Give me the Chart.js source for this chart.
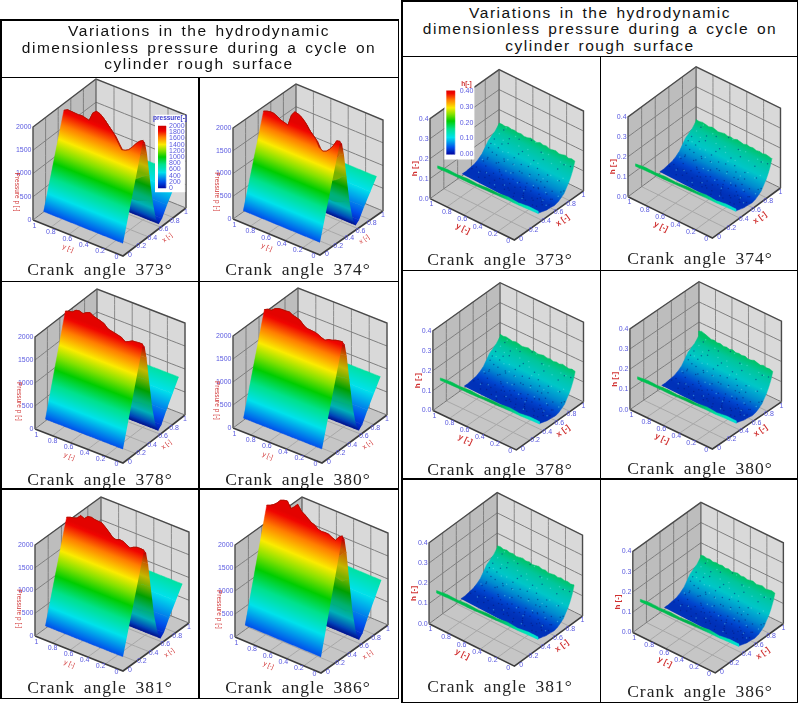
<!DOCTYPE html>
<html>
<head>
<meta charset="utf-8">
<title>Hydrodynamic pressure and film thickness during a cycle</title>
<script src="https://cdn.jsdelivr.net/npm/chart.js@4/dist/chart.umd.min.js"></script>
<style>
  body { margin: 0; background: #fff; width: 798px; height: 703px; overflow: hidden; position: relative; }
  canvas { position: absolute; display: block; }
  .rule { position: absolute; background: #000; }
  .title { position: absolute; text-align: center; font: 15.5px/16.5px "Liberation Sans", sans-serif; letter-spacing: 1.5px; word-spacing: 2px; color: #111; white-space: nowrap; }
  .caption { position: absolute; text-align: center; font: 17.5px/20px "Liberation Serif", serif; letter-spacing: 1px; word-spacing: 3.5px; color: #222; white-space: nowrap; }
</style>
</head>
<body>
<script>
const titleLines = ["Variations in the hydrodynamic", "dimensionless pressure during a cycle on", "cylinder rough surface"];
const axisTicks = ["0", "0.2", "0.4", "0.6", "0.8", "1"];
const pressureTicks = ["0", "500", "1000", "1500", "2000"];
const filmTicks = ["0.0", "0.1", "0.2", "0.3", "0.4"];
const pressureLegendTicks = ["0", "200", "400", "600", "800", "1000", "1200", "1400", "1600", "1800", "2000"];
const filmLegendTicks = ["0.00", "0.10", "0.20", "0.30", "0.40"];

// colour bar of the two legends
const rainbowAt = [0, 0.1, 0.25, 0.38, 0.5, 0.6, 0.7, 0.82, 0.92, 1];
const rainbowRgb = [[0, 10, 165], [0, 80, 235], [0, 225, 235], [0, 225, 140], [0, 205, 0], [130, 225, 0], [250, 235, 0], [255, 125, 0], [240, 5, 0], [205, 0, 0]];

// ridge height along y
const ridgeY = [0, 0.04, 0.08, 0.12, 0.16, 0.2, 0.24, 0.28, 0.32, 0.36, 0.4, 0.44, 0.48, 0.52, 0.56, 0.6, 0.64, 0.68, 0.72, 0.76, 0.8, 0.84, 0.88];
const ridge373 = [2157, 2105, 2024, 1921, 1833, 1788, 1771, 1897, 2031, 2122, 2206, 2297, 2359, 2378, 2311, 2123, 2142, 2161, 2151, 2156, 2161, 2166, 2121];
const ridge374 = [2187, 2168, 2027, 1922, 1846, 1814, 1863, 2015, 2093, 2172, 2287, 2365, 2407, 2426, 2322, 2069, 2096, 2116, 2165, 2200, 2204, 2187, 2156];
const ridge378 = [2248, 2248, 2240, 2232, 2188, 2151, 2216, 2237, 2257, 2272, 2293, 2372, 2400, 2422, 2443, 2493, 2463, 2412, 2440, 2425, 2360, 2344, 2315];
const ridge380 = [2299, 2290, 2274, 2244, 2228, 2183, 2211, 2252, 2273, 2279, 2284, 2326, 2404, 2432, 2452, 2494, 2485, 2484, 2475, 2445, 2378, 2370, 2332];
const ridge381 = [2316, 2322, 2320, 2290, 2244, 2286, 2329, 2335, 2304, 2325, 2411, 2483, 2548, 2553, 2559, 2580, 2564, 2489, 2524, 2442, 2411, 2395, 2364];
const ridge386 = [2646, 2593, 2489, 2516, 2557, 2562, 2553, 2565, 2627, 2654, 2710, 2772, 2813, 2927, 2838, 2770, 2905, 2889, 2857, 2768, 2701, 2655, 2624];

// pressure cross-section, back to front: station x, share of the ridge height, colour position
const sectionX = [0.9, 0.8, 0.7, 0.62, 0.57, 0.52, 0.47, 0.42, 0.38, 0.35, 0.32, 0];
const sectionShare = [0.4, 0.29, 0.18, 0.08, 0.05, 0.13, 0.32, 0.6, 0.84, 0.96, 1, 0.13];
const sectionTone = [0.35, 0.25, 0.15, 0.06, 0.02, 0.12, 0.35, 0.62, 0.82, 0.93, 0.95, 0.1];

// film thickness cross-section, front to back, at y = 0 and at y = 0.9
const filmX = [0.34, 0.4, 0.46, 0.52, 0.58, 0.63, 0.68, 0.72, 0.76, 0.79, 0.82, 0.85, 0.875];
const filmLow = [0.05, 0.043, 0.036, 0.034, 0.03, 0.035, 0.046, 0.057, 0.08, 0.096, 0.119, 0.147, 0.18];
const filmHigh = [0.06, 0.059, 0.063, 0.066, 0.077, 0.09, 0.114, 0.134, 0.143, 0.151, 0.157, 0.169, 0.18];
const filmTone = [0.085, 0.07, 0.065, 0.065, 0.075, 0.1, 0.14, 0.18, 0.22, 0.26, 0.29, 0.33, 0.4];

// rough upper edge of the film surface at x = 0.875
const edgeY = [0, 0.0375, 0.075, 0.1125, 0.15, 0.1875, 0.225, 0.2625, 0.3, 0.3375, 0.375, 0.4125, 0.45, 0.4875, 0.525, 0.5625, 0.6, 0.6375, 0.675, 0.7125, 0.75, 0.7875, 0.825, 0.8625, 0.9];
const edge373 = [0.18, 0.184, 0.179, 0.186, 0.181, 0.178, 0.185, 0.182, 0.179, 0.186, 0.183, 0.188, 0.18, 0.184, 0.187, 0.181, 0.179, 0.185, 0.182, 0.186, 0.184, 0.188, 0.183, 0.186, 0.184];
const edge374 = [0.178, 0.182, 0.185, 0.18, 0.184, 0.181, 0.186, 0.183, 0.187, 0.181, 0.185, 0.189, 0.182, 0.186, 0.183, 0.188, 0.184, 0.181, 0.186, 0.189, 0.183, 0.187, 0.19, 0.186, 0.188];
const edge378 = [0.183, 0.187, 0.182, 0.185, 0.189, 0.183, 0.186, 0.181, 0.187, 0.184, 0.189, 0.185, 0.182, 0.187, 0.184, 0.19, 0.186, 0.183, 0.188, 0.191, 0.186, 0.19, 0.193, 0.189, 0.192];
const edge380 = [0.18, 0.185, 0.183, 0.188, 0.182, 0.186, 0.191, 0.185, 0.183, 0.19, 0.186, 0.189, 0.186, 0.192, 0.187, 0.191, 0.188, 0.194, 0.19, 0.196, 0.193, 0.199, 0.205, 0.21, 0.204];
const edge381 = [0.185, 0.181, 0.186, 0.183, 0.188, 0.182, 0.187, 0.184, 0.181, 0.188, 0.184, 0.19, 0.186, 0.183, 0.189, 0.185, 0.191, 0.187, 0.184, 0.19, 0.186, 0.192, 0.188, 0.193, 0.19];
const edge386 = [0.182, 0.186, 0.183, 0.18, 0.187, 0.184, 0.181, 0.188, 0.185, 0.182, 0.187, 0.184, 0.19, 0.186, 0.183, 0.189, 0.185, 0.191, 0.187, 0.19, 0.186, 0.192, 0.189, 0.193, 0.19];

// thin raised lip along the front of the film surface
const lipY = [0, 0.1, 0.2, 0.3, 0.4, 0.5, 0.6, 0.7, 0.8, 0.9, 1];
const lipX = [0.35, 0.325, 0.3, 0.28, 0.255, 0.23, 0.205, 0.18, 0.16, 0.135, 0.11];
const lipZ = [0.045, 0.053, 0.06, 0.068, 0.076, 0.084, 0.092, 0.1, 0.108, 0.117, 0.125];
const lipRim = [0.012, 0.015, 0.011, 0.016, 0.012, 0.015, 0.012, 0.017, 0.013, 0.016, 0.012];

// dark pits and light grains picked out on the film surface
const pitX = [0.42, 0.47, 0.51, 0.55, 0.61, 0.66, 0.71, 0.75, 0.8, 0.84, 0.44, 0.49, 0.53, 0.58, 0.63, 0.68, 0.73, 0.78, 0.83, 0.86, 0.4, 0.46, 0.5, 0.56, 0.6, 0.65, 0.7, 0.76, 0.81, 0.85, 0.43, 0.48, 0.54, 0.57, 0.62, 0.67, 0.72, 0.77, 0.82, 0.87, 0.41, 0.45, 0.52, 0.59, 0.64, 0.69, 0.74, 0.79, 0.84, 0.86, 0.47, 0.55, 0.6, 0.66, 0.71, 0.5, 0.57, 0.63, 0.69, 0.75, 0.39, 0.43, 0.46, 0.49, 0.52, 0.54, 0.56, 0.59, 0.61, 0.64, 0.66, 0.68, 0.7, 0.72, 0.74, 0.77, 0.45, 0.48, 0.51, 0.53, 0.55, 0.58, 0.6, 0.62, 0.65, 0.67, 0.69, 0.71, 0.73, 0.76, 0.41, 0.44, 0.47, 0.5, 0.53, 0.56, 0.59, 0.62, 0.64, 0.67];
const pitY = [0.13, 0.62, 0.31, 0.79, 0.07, 0.45, 0.86, 0.22, 0.56, 0.37, 0.71, 0.18, 0.49, 0.28, 0.83, 0.11, 0.6, 0.41, 0.74, 0.04, 0.34, 0.88, 0.08, 0.53, 0.67, 0.25, 0.39, 0.77, 0.15, 0.64, 0.47, 0.29, 0.69, 0.12, 0.36, 0.81, 0.2, 0.58, 0.33, 0.51, 0.76, 0.43, 0.6, 0.85, 0.54, 0.3, 0.02, 0.72, 0.1, 0.83, 0.52, 0.38, 0.2, 0.66, 0.5, 0.75, 0.16, 0.73, 0.87, 0.34, 0.55, 0.09, 0.27, 0.7, 0.42, 0.17, 0.61, 0.35, 0.82, 0.14, 0.48, 0.68, 0.26, 0.78, 0.44, 0.1, 0.37, 0.8, 0.21, 0.57, 0.04, 0.65, 0.43, 0.28, 0.72, 0.19, 0.58, 0.03, 0.31, 0.86, 0.63, 0.23, 0.46, 0.86, 0.11, 0.33, 0.5, 0.06, 0.24, 0.76];
const grainX = [0.44, 0.5, 0.56, 0.62, 0.68, 0.73, 0.77, 0.81, 0.85, 0.87, 0.48, 0.54, 0.6, 0.65, 0.7, 0.75, 0.79, 0.83, 0.86, 0.42, 0.52, 0.58, 0.64, 0.71, 0.76, 0.8, 0.84, 0.87, 0.46, 0.61, 0.67, 0.72, 0.78, 0.82, 0.85, 0.69, 0.74, 0.79, 0.83, 0.86];
const grainY = [0.27, 0.74, 0.12, 0.55, 0.38, 0.83, 0.2, 0.61, 0.09, 0.46, 0.51, 0.33, 0.87, 0.16, 0.65, 0.42, 0.78, 0.24, 0.69, 0.58, 0.05, 0.44, 0.3, 0.72, 0.11, 0.49, 0.35, 0.81, 0.8, 0.6, 0.03, 0.25, 0.36, 0.85, 0.15, 0.57, 0.68, 0.07, 0.52, 0.3];

// each panel: table cell, and the box corners O (x=0,y=0), L (y=1), R (x=1), height of the z axis
const pressurePanels = [
  { angle: 373, ridge: ridge373, cell: [2, 78, 198, 280], O: [123, 256], L: [33, 220], R: [186, 208], zh: 93, capX: 100, capY: 269, legend: true },
  { angle: 374, ridge: ridge374, cell: [199, 78, 397, 280], O: [320, 255], L: [233, 219], R: [383, 211], zh: 91, capX: 298, capY: 269 },
  { angle: 378, ridge: ridge378, cell: [2, 282, 198, 487], O: [123, 463], L: [35, 429], R: [185, 415], zh: 92, capX: 100, capY: 479 },
  { angle: 380, ridge: ridge380, cell: [199, 282, 397, 487], O: [322, 463], L: [233, 428], R: [387, 415], zh: 92, capX: 298, capY: 479 },
  { angle: 381, ridge: ridge381, cell: [2, 490, 198, 697], O: [123, 671], L: [35, 636], R: [189, 623], zh: 91, capX: 100, capY: 687 },
  { angle: 386, ridge: ridge386, cell: [199, 490, 397, 697], O: [321, 673], L: [235, 637], R: [388, 625], zh: 92, capX: 298, capY: 687 }
];
const filmPanels = [
  { angle: 373, edge: edge373, cell: [403, 57, 599, 269], O: [515, 243], L: [427, 200], R: [587, 192], zh: 83, capX: 500, capY: 259, legend: true },
  { angle: 374, edge: edge374, cell: [601, 57, 796, 269], O: [713, 241], L: [625, 198], R: [784, 189], zh: 83, capX: 700, capY: 258 },
  { angle: 378, edge: edge378, cell: [403, 271, 599, 477], O: [517, 453], L: [430, 412], R: [587, 403], zh: 83, capX: 500, capY: 469 },
  { angle: 380, edge: edge380, cell: [601, 271, 796, 477], O: [713, 452], L: [627, 411], R: [785, 403], zh: 84, capX: 700, capY: 468 },
  { angle: 381, edge: edge381, cell: [403, 480, 599, 701], O: [515, 669], L: [426, 625], R: [586, 617], zh: 84, capX: 500, capY: 686 },
  { angle: 386, edge: edge386, cell: [601, 480, 796, 701], O: [716, 676], L: [630, 634], R: [787, 625], zh: 84, capX: 700, capY: 691 }
];

const tableRules = [
  [0, 19, 1.5, 680], [198, 77, 1.5, 621], [397.5, 19, 1.5, 680],
  [0, 19, 399, 1.5], [0, 76.5, 399, 1.5], [0, 280.5, 399, 1.5], [0, 488, 399, 1.5], [0, 697.5, 399, 1.5],
  [401, 0, 1.5, 703], [599.5, 56, 1.5, 647], [796.5, 0, 1.5, 703],
  [401, 0, 397, 1.5], [401, 55.5, 397, 1.5], [401, 269.5, 397, 1.5], [401, 478, 397, 1.5], [401, 701.5, 397, 1.5]
];

function rainbow(t, shade) {
  const v = Math.max(0, Math.min(1, t));
  let i = 0;
  while (i < rainbowAt.length - 2 && v > rainbowAt[i + 1]) i++;
  const f = (v - rainbowAt[i]) / (rainbowAt[i + 1] - rainbowAt[i]);
  const c = rainbowRgb[i].map((a, k) => Math.round((a + (rainbowRgb[i + 1][k] - a) * f) * shade));
  return `rgb(${c[0]},${c[1]},${c[2]})`;
}

// map x, y, z of the box to the values of the chart's own linear scales
function project(panel, x, y, z, zMax) {
  const [ox, oy] = panel.O;
  return [
    ox + x * (panel.R[0] - ox) + y * (panel.L[0] - ox),
    oy + x * (panel.R[1] - oy) + y * (panel.L[1] - oy) - z / zMax * panel.zh
  ];
}

function polygon(points, color, edge) {
  return {
    data: points.map(p => ({ x: p[0], y: p[1] })),
    showLine: true, fill: "shape", backgroundColor: color,
    borderColor: edge || color, borderWidth: 0.5, pointRadius: 0, tension: 0.001
  };
}

function segment(points, color, width) {
  return {
    data: points.map(p => ({ x: p[0], y: p[1] })),
    showLine: true, fill: false, borderColor: color, borderWidth: width, pointRadius: 0, tension: 0.001
  };
}

// colour ramp running square to the y axis of the box, so the bands follow the y direction
function toneGradient(ctx, panel, cell, a, b, toneA, toneB, shade) {
  let nx = -(panel.L[1] - panel.O[1]), ny = panel.L[0] - panel.O[0];
  const len = Math.hypot(nx, ny);
  nx /= len; ny /= len;
  const d = (b[0] - a[0]) * nx + (b[1] - a[1]) * ny;
  const g = ctx.createLinearGradient(a[0] - cell[0], a[1] - cell[1], a[0] + nx * d - cell[0], a[1] + ny * d - cell[1]);
  g.addColorStop(0, rainbow(toneA, shade));
  rainbowAt.forEach(t => {
    const pos = (t - toneA) / (toneB - toneA);
    if (pos > 0 && pos < 1) g.addColorStop(pos, rainbow(t, shade));
  });
  g.addColorStop(1, rainbow(toneB, shade));
  return g;
}

function boxDatasets(panel, zMax, zCount) {
  const p = (x, y, z) => project(panel, x, y, z, zMax);
  const sets = [
    polygon([p(0, 1, 0), p(1, 1, 0), p(1, 1, zMax), p(0, 1, zMax)], "#bdbdbd"),
    polygon([p(1, 1, 0), p(1, 0, 0), p(1, 0, zMax), p(1, 1, zMax)], "#d9d9d9"),
    polygon([p(0, 0, 0), p(1, 0, 0), p(1, 1, 0), p(0, 1, 0)], "#c6c6c6")
  ];
  [0.2, 0.4, 0.6, 0.8].forEach(v => {
    sets.push(segment([p(v, 1, 0), p(v, 1, zMax)], "#7f7f7f", 1));
    sets.push(segment([p(1, v, 0), p(1, v, zMax)], "#8a8a8a", 1));
    sets.push(segment([p(v, 0, 0), p(v, 1, 0)], "#a8a8a8", 1));
    sets.push(segment([p(0, v, 0), p(1, v, 0)], "#a8a8a8", 1));
  });
  for (let i = 1; i < zCount; i++) {
    const z = zMax * i / zCount;
    sets.push(segment([p(0, 1, z), p(1, 1, z), p(1, 0, z)], "#7f7f7f", 1));
  }
  sets.push(segment([p(0, 1, 0), p(0, 1, zMax), p(1, 1, zMax), p(1, 0, zMax), p(1, 0, 0)], "#4a4a4a", 1.4));
  sets.push(segment([p(1, 1, 0), p(1, 1, zMax)], "#5a5a5a", 1.2));
  sets.push(segment([p(0, 1, 0), p(0, 0, 0), p(1, 0, 0)], "#3c3c3c", 1.6));
  sets.push(segment([p(0, 1, 0), p(1, 1, 0), p(1, 0, 0)], "#777777", 1));
  return sets;
}

function boxLabels(panel, zMax, zTicks, zTitle, zTitleAt, zTitleRot, titleFont) {
  const blue = "#5a5ae0", red = "#d03030", small = '7px "Liberation Sans", sans-serif';
  const p = (x, y, z) => project(panel, x, y, z, zMax);
  const labels = [];
  axisTicks.forEach((t, i) => {
    const v = i / 5;
    const py = p(0, v, 0), px = p(v, 0, 0);
    labels.push({ text: t, x: py[0] - 6.5 + 8 * v, y: py[1] + 1.5 + 4.5 * v, color: blue, font: small });
    labels.push({ text: t, x: px[0] + 7 - 7 * v, y: px[1] - 1 + 5 * v, color: blue, font: small });
  });
  zTicks.forEach((t, i) => {
    const q = p(0, 1, zMax * i / 4);
    labels.push({ text: t, x: q[0] - 1.5, y: q[1], color: blue, font: small, align: "right" });
  });
  const my = p(0, 0.6, 0), mx = p(0.67, 0, 0), mz = p(0, 1, zTitleAt);
  const rotY = Math.atan2(panel.O[1] - panel.L[1], panel.O[0] - panel.L[0]);
  const rotX = Math.atan2(panel.R[1] - panel.O[1], panel.R[0] - panel.O[0]);
  labels.push({ text: "y [-]", x: my[0] - 1, y: my[1] + 14, color: red, font: titleFont, rot: rotY });
  labels.push({ text: "x [-]", x: mx[0] + 2, y: mx[1] + 14, color: red, font: titleFont, rot: rotX });
  labels.push({ text: zTitle, x: mz[0] - 16, y: mz[1], color: red, font: titleFont, rot: zTitleRot });
  return labels;
}

function pressureDatasets(ctx, panel) {
  const mean = panel.ridge.reduce((a, b) => a + b, 0) / panel.ridge.length;
  // the roughness only shows near the ridge, the far plane stays flat
  const zAt = (i, k) => {
    const share = sectionShare[i];
    return share >= 0.3 && sectionX[i] < 0.6 ? share * panel.ridge[k] : share * mean;
  };
  const sets = [];
  for (let i = 0; i < sectionX.length - 1; i++) {
    const row = s => ridgeY.map((y, k) => project(panel, sectionX[s], y, zAt(s, k), 2000));
    const a = project(panel, sectionX[i], 0, zAt(i, 0), 2000);
    const b = project(panel, sectionX[i + 1], 0, zAt(i + 1, 0), 2000);
    const back = sectionX[i] <= 0.57 && sectionX[i + 1] >= 0.32;
    const g = toneGradient(ctx, panel, panel.cell, a, b, sectionTone[i], sectionTone[i + 1], back ? 0.78 : 1);
    sets.push(polygon(row(i).concat(row(i + 1).reverse()), g));
  }
  const top = sectionX.indexOf(0.32);
  sets.push(segment(ridgeY.map((y, k) => project(panel, 0.32, y, zAt(top, k), 2000)), "rgba(165,20,0,0.75)", 1));
  return sets;
}

function filmDatasets(ctx, panel) {
  const p = (x, y, z) => project(panel, x, y, z, 0.4);
  const last = filmX.length - 1;
  const outline = filmX.map((x, i) => p(x, 0, filmLow[i]))
    .concat(edgeY.map((y, k) => p(filmX[last], y, panel.edge[k])))
    .concat(filmX.map((x, i) => p(x, 0.9, filmHigh[i])).reverse());
  // ramp stops follow the stations of the cross-section
  const a = p(filmX[0], 0, filmLow[0]), b = p(filmX[last], 0, filmLow[last]);
  let nx = -(panel.L[1] - panel.O[1]), ny = panel.L[0] - panel.O[0];
  const len = Math.hypot(nx, ny);
  nx /= len; ny /= len;
  const dist = q => (q[0] - a[0]) * nx + (q[1] - a[1]) * ny;
  const full = dist(b);
  const g = ctx.createLinearGradient(a[0] - panel.cell[0], a[1] - panel.cell[1], a[0] + nx * full - panel.cell[0], a[1] + ny * full - panel.cell[1]);
  filmX.forEach((x, i) => {
    const pos = Math.max(0, Math.min(1, dist(p(x, 0, filmLow[i])) / full));
    g.addColorStop(pos, rainbow(filmTone[i], 0.88));
  });
  const zOn = (x, y) => {
    let best = 0;
    filmX.forEach((v, i) => { if (Math.abs(v - x) < Math.abs(filmX[best] - x)) best = i; });
    return filmLow[best] + (filmHigh[best] - filmLow[best]) * y / 0.9;
  };
  const specks = (xs, ys, color) => ({
    data: xs.map((x, i) => { const q = p(x, ys[i], zOn(x, ys[i])); return { x: q[0], y: q[1] }; }),
    showLine: false, pointRadius: 0.75, pointBorderWidth: 0, pointBackgroundColor: color
  });
  // lip on top of the surface, teal at y = 0 and green further along
  const lipLow = lipY.map((y, i) => p(lipX[i], y, lipZ[i]));
  const lipTop = lipY.map((y, i) => p(lipX[i], y, lipZ[i] + lipRim[i]));
  const lg = ctx.createLinearGradient(lipLow[0][0] - panel.cell[0], lipLow[0][1] - panel.cell[1], lipLow[10][0] - panel.cell[0], lipLow[10][1] - panel.cell[1]);
  lg.addColorStop(0, rainbow(0.27, 1));
  lg.addColorStop(0.2, rainbow(0.34, 1));
  lg.addColorStop(0.45, rainbow(0.42, 0.8));
  lg.addColorStop(1, rainbow(0.42, 0.9));
  return [
    polygon(outline, g),
    specks(pitX, pitY, "rgba(0,25,120,0.5)"),
    specks(grainX, grainY, "rgba(110,230,235,0.42)"),
    polygon(lipLow.concat(lipTop.reverse()), lg)
  ];
}

function legendParts(panel, box, bar, ticks, tickX, title, titleColor, titleX, titleY) {
  const g = chartContext(panel).createLinearGradient(0, bar[3] - panel.cell[1], 0, bar[1] - panel.cell[1]);
  rainbowAt.forEach(t => g.addColorStop(t, rainbow(t, 1)));
  const corners = r => [[r[0], r[1]], [r[2], r[1]], [r[2], r[3]], [r[0], r[3]]];
  const labels = ticks.map((t, i) => ({
    text: t, x: tickX, y: bar[3] + (bar[1] - bar[3]) * i / (ticks.length - 1),
    color: "#5a5ae0", font: '7px "Liberation Sans", sans-serif', align: "left"
  }));
  labels.push({ text: title, x: titleX, y: titleY, color: titleColor, font: 'bold 6.5px "Liberation Sans", sans-serif' });
  return { sets: [polygon(corners(box), "#ffffff"), polygon(corners(bar), g)], labels };
}

const axisTextPlugin = {
  id: "axisText",
  afterDatasetsDraw(chart, args, opts) {
    const c = chart.ctx;
    opts.labels.forEach(l => {
      c.save();
      c.translate(chart.scales.x.getPixelForValue(l.x), chart.scales.y.getPixelForValue(l.y));
      if (l.rot) c.rotate(l.rot);
      c.font = l.font;
      c.fillStyle = l.color;
      c.textAlign = l.align || "center";
      c.textBaseline = "middle";
      c.fillText(l.text, 0, 0);
      c.restore();
    });
  }
};

function chartContext(panel) {
  if (!panel.canvas) {
    const [l, t, r, b] = panel.cell;
    const canvas = document.createElement("canvas");
    canvas.width = r - l;
    canvas.height = b - t;
    canvas.style.cssText = `left:${l}px;top:${t}px;width:${r - l}px;height:${b - t}px`;
    document.body.appendChild(canvas);
    panel.canvas = canvas;
  }
  return panel.canvas.getContext("2d");
}

function drawPanel(panel, datasets, labels) {
  const [l, t, r, b] = panel.cell;
  // later datasets sit on top
  datasets.forEach((d, i) => { d.order = -i; });
  new Chart(panel.canvas, {
    type: "scatter",
    data: { datasets },
    plugins: [axisTextPlugin],
    options: {
      responsive: false,
      animation: false,
      events: [],
      layout: { padding: 0 },
      plugins: { legend: { display: false }, tooltip: { enabled: false }, axisText: { labels } },
      scales: {
        x: { type: "linear", display: false, min: l, max: r },
        y: { type: "linear", display: false, min: t, max: b, reverse: true }
      }
    }
  });
}

function addCaption(panel) {
  const el = document.createElement("div");
  el.className = "caption";
  el.textContent = `Crank angle ${panel.angle}°`;
  el.style.left = (panel.capX - 100) + "px";
  el.style.width = "200px";
  el.style.top = (panel.capY - 10) + "px";
  document.body.appendChild(el);
}

function addTitle(centerX, top) {
  const el = document.createElement("div");
  el.className = "title";
  el.style.left = (centerX - 198) + "px";
  el.style.width = "396px";
  el.style.top = top + "px";
  el.innerHTML = titleLines.join("<br>");
  document.body.appendChild(el);
}

pressurePanels.forEach(panel => {
  const ctx = chartContext(panel);
  let sets = boxDatasets(panel, 2000, 4).concat(pressureDatasets(ctx, panel));
  let labels = boxLabels(panel, 2000, pressureTicks, "Pressure p [-]", 600, Math.PI / 2, '6.5px "Liberation Sans", sans-serif');
  if (panel.legend) {
    const lg = legendParts(panel, [155, 115, 185, 192], [158, 126, 166, 188], pressureLegendTicks, 169, "pressure[-]", "#4040d0", 170, 118);
    sets = sets.concat(lg.sets);
    labels = labels.concat(lg.labels);
  }
  drawPanel(panel, sets, labels);
  addCaption(panel);
});

filmPanels.forEach(panel => {
  const ctx = chartContext(panel);
  let sets = boxDatasets(panel, 0.4, 4).concat(filmDatasets(ctx, panel));
  let labels = boxLabels(panel, 0.4, filmTicks, "h [-]", 0.15, -Math.PI / 2, 'bold 8px "Liberation Sans", sans-serif');
  if (panel.legend) {
    const lg = legendParts(panel, [442, 80, 473, 159], [444, 88, 453, 154], filmLegendTicks, 458, "h[-]", "#d03030", 465, 81);
    sets = sets.concat(lg.sets);
    labels = labels.concat(lg.labels);
  }
  drawPanel(panel, sets, labels);
  addCaption(panel);
});

addTitle(199, 23);
addTitle(600, 4.5);

tableRules.forEach(([x, y, w, h]) => {
  const el = document.createElement("div");
  el.className = "rule";
  el.style.cssText = `left:${x}px;top:${y}px;width:${w}px;height:${h}px`;
  document.body.appendChild(el);
});
</script>
</body>
</html>
